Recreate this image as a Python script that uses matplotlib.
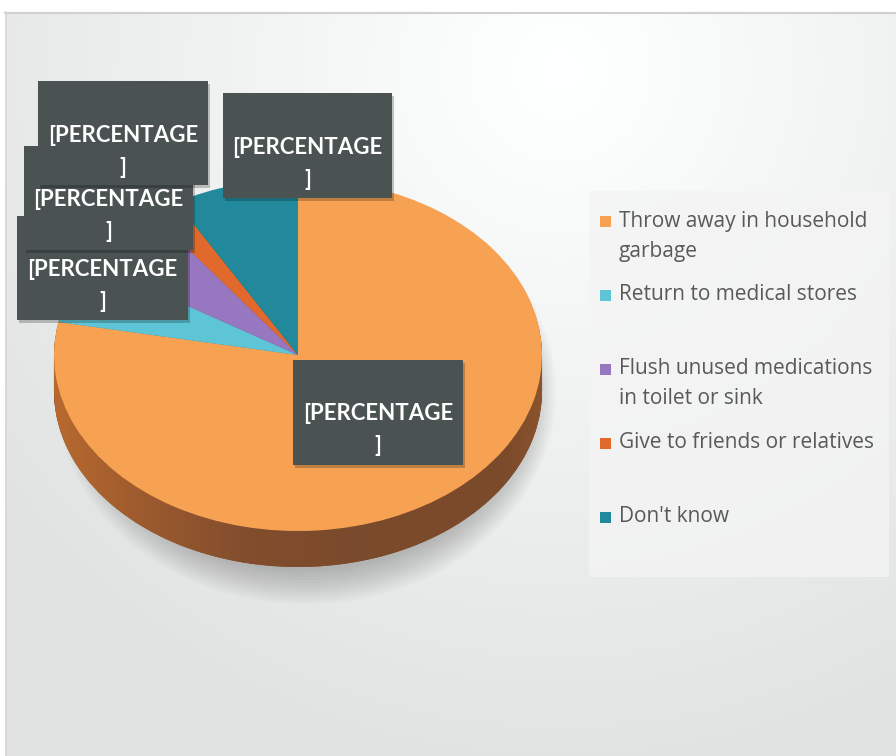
import numpy as np
import matplotlib
matplotlib.use("Agg")
import matplotlib.pyplot as plt
from matplotlib.patches import Rectangle, Ellipse, Polygon
from matplotlib.colors import to_rgb

# ---------------- data ----------------
categories = ["Throw away in household garbage", "Return to medical stores",
              "Flush unused medications in toilet or sink",
              "Give to friends or relatives", "Don't know"]
legend_labels = ["Throw away in household\ngarbage", "Return to medical stores",
                 "Flush unused medications\nin toilet or sink",
                 "Give to friends or relatives", "Don't know"]
values = [78.0, 5.8, 6.0, 1.9, 8.3]
data_label = "[PERCENTAGE\n]"
colors = ["#F6A252", "#5EC5D7", "#9877C1", "#E0692B", "#21899B"]
side_colors = ["#8A532D", "#3E8B98", "#6A5489", "#9C4A1F", "#17606D"]

W, H = 896, 756
fig = plt.figure(figsize=(W / 100, H / 100), dpi=100)

# ---------------- background ----------------
ax_bg = fig.add_axes([0, 0, 1, 1])
ax_bg.set_xlim(0, W)
ax_bg.set_ylim(H, 0)
ax_bg.axis("off")
yy, xx = np.mgrid[0:H, 0:W]
dist = np.sqrt((xx - 560.0) ** 2 + (yy - 70.0) ** 2)
g = 1.0 - 0.12 * np.clip(dist / 720.0, 0, 1)
img = np.dstack([g, np.clip(g + 0.004, 0, 1), np.clip(g + 0.004, 0, 1)])
ax_bg.imshow(img, extent=(0, W, H, 0), aspect="auto", zorder=0)
ax_bg.add_patch(Rectangle((0, 0), W, 12, fc="white", ec="none", zorder=1))
ax_bg.add_patch(Rectangle((0, 0), 5, H, fc="white", ec="none", zorder=1))
ax_bg.plot([5, W], [12.5, 12.5], color="#D0D0D0", lw=1.5, zorder=2)
ax_bg.plot([5.5, 5.5], [12, H], color="#D8D8D8", lw=1.2, zorder=2)

# pie soft shadow
for i in range(12):
    ax_bg.add_patch(Ellipse((306, 392), 2 * (250 - i * 2.5), 2 * (212 - i * 3),
                            fc="black", ec="none", alpha=0.018, zorder=3))

# legend background
ax_bg.add_patch(Rectangle((589, 191), 300, 386, fc="#F4F4F4", ec="none",
                          alpha=0.8, zorder=3))

# ---------------- pie ----------------
cx, cy, rx, ry, depth = 298, 355, 244, 176, 36
ax_pie = fig.add_axes([(cx - rx) / W, (H - (cy + ry + depth)) / H,
                       2 * rx / W, (2 * ry + depth) / H])
ax_pie.patch.set_alpha(0)
dd = depth / ry
N = 36
for k in range(N, 0, -1):
    ax_pie.pie(values, colors=side_colors, startangle=90, counterclock=False,
               center=(0, -dd * k / N), radius=1,
               wedgeprops=dict(linewidth=0))

# shading of the side band
xs = np.linspace(-1, 1, 400)
edge = -np.sqrt(np.clip(1 - xs ** 2, 0, 1))
band = np.concatenate([np.column_stack([xs, edge - dd]),
                       np.column_stack([xs[::-1], edge[::-1]])])
band_patch = Polygon(band, closed=True, fc="none", ec="none")
ax_pie.add_patch(band_patch)
stops_x = [-1.0, -0.6, -0.2, 0.3, 0.85, 1.0]
stops_c = ["#B8692F", "#9A592E", "#814D2D", "#7A4A2C", "#7B4A2B", "#8A532D"]
grad = np.zeros((2, 400, 4))
for ch in range(3):
    grad[:, :, ch] = np.interp(xs, stops_x, [to_rgb(c)[ch] for c in stops_c])
grad[:, :, 3] = 1.0
im = ax_pie.imshow(grad, extent=(-1, 1, -1 - dd, 0), aspect="auto", zorder=5)
im.set_clip_path(band_patch)

wedges, _ = ax_pie.pie(values, colors=colors, startangle=90, counterclock=False,
                       wedgeprops=dict(linewidth=0))
for w in wedges:
    w.set_zorder(6)
ax_pie.set_aspect("auto")
ax_pie.set_xlim(-1, 1)
ax_pie.set_ylim(-1 - dd, 1)
ax_pie.axis("off")

# ---------------- overlay: data labels and legend ----------------
ax = fig.add_axes([0, 0, 1, 1])
ax.patch.set_alpha(0)
ax.set_xlim(0, W)
ax.set_ylim(H, 0)
ax.axis("off")

# label boxes in drawing order: garbage, return, flush, give, don't know
boxes = [(293, 360, 463, 465), (17, 216, 188, 320), (24, 146, 193, 250),
         (38, 81, 208, 185), (223, 93, 392, 198)]
line1, line2 = data_label.split("\n")
for (x0, y0, x1, y1) in boxes:
    ax.add_patch(Rectangle((x0 + 2, y0 + 3), x1 - x0, y1 - y0, fc="black",
                           ec="none", alpha=0.22))
    ax.add_patch(Rectangle((x0, y0), x1 - x0, y1 - y0, fc="#4A5252", ec="none"))
    xc = (x0 + x1) / 2
    ax.text(xc, y0 + 54, line1, color="white", fontsize=16, fontweight="bold",
            family="Lato", ha="center", va="center")
    ax.text(xc, y0 + 86, line2, color="white", fontsize=16, fontweight="bold",
            family="Lato", ha="center", va="center")

legend_y = [221, 295, 369, 443, 517]
for lab, col, ly in zip(legend_labels, colors, legend_y):
    ax.add_patch(Rectangle((600, ly - 5), 11, 11, fc=col, ec="none"))
    for j, part in enumerate(lab.split("\n")):
        ax.text(619, ly + 30 * j, part, color="#595959", fontsize=15,
                family="Open Sans", ha="left", va="center")

fig.savefig("out.png", dpi=100)
